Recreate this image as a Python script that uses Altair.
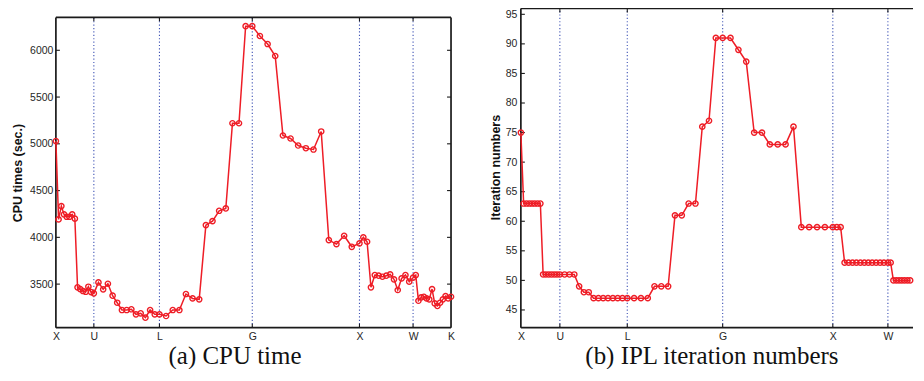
import altair as alt
import pandas as pd

# k-path coordinates (X-U-L-G-X-W-K, 14 steps per segment)
K_POINTS = [0.000, 0.025, 0.051, 0.076, 0.101, 0.126, 0.152, 0.177, 0.202, 0.227, 0.253, 0.278, 0.303, 0.328, 0.354,
            0.397, 0.441, 0.485, 0.529, 0.572, 0.616, 0.660, 0.704, 0.747, 0.791, 0.835, 0.879, 0.922, 0.966,
            1.028, 1.090, 1.152, 1.213, 1.275, 1.337, 1.399, 1.461, 1.523, 1.585, 1.647, 1.708, 1.770, 1.832,
            1.903, 1.975, 2.046, 2.118, 2.189, 2.260, 2.332, 2.403, 2.475, 2.546, 2.617, 2.689, 2.760, 2.832,
            2.868, 2.903, 2.939, 2.975, 3.011, 3.046, 3.082, 3.118, 3.154, 3.189, 3.225, 3.261, 3.296, 3.332,
            3.357, 3.382, 3.408, 3.433, 3.458, 3.483, 3.509, 3.534, 3.559, 3.584, 3.610, 3.635, 3.660, 3.686]

CPU_TIMES = [5030, 4192, 4334, 4245, 4220, 4220, 4245, 4200, 3466, 3447, 3426, 3418, 3472, 3415, 3401,
             3518, 3444, 3504, 3376, 3301, 3223, 3223, 3231, 3177, 3188, 3141, 3223, 3177, 3177,
             3159, 3223, 3223, 3394, 3347, 3337, 4131, 4174, 4284, 4309, 5220, 5220, 6258, 6258,
             6153, 6067, 5939, 5089, 5057, 4982, 4953, 4939, 5132, 3971, 3928, 4017, 3899, 3936,
             4000, 3953, 3466, 3597, 3590, 3579, 3590, 3604, 3551, 3437, 3561, 3597, 3526, 3569,
             3597, 3322, 3358, 3365, 3347, 3337, 3447, 3294, 3266, 3301, 3337, 3372, 3347, 3365]

IPL_ITERS = [75, 63, 63, 63, 63, 63, 63, 63, 51, 51, 51, 51, 51, 51, 51,
             51, 51, 51, 49, 48, 48, 47, 47, 47, 47, 47, 47, 47, 47,
             47, 47, 47, 49, 49, 49, 61, 61, 63, 63, 76, 77, 91, 91,
             91, 89, 87, 75, 75, 73, 73, 73, 76, 59, 59, 59, 59, 59,
             59, 59, 53, 53, 53, 53, 53, 53, 53, 53, 53, 53, 53, 53,
             53, 50, 50, 50, 50, 50, 50, 50, 50, 50, 50, 50, 50, 50]

TICK_POS = [0.0, 0.354, 0.966, 1.832, 2.832, 3.332, 3.686]
TICK_LABELS = ["X", "U", "L", "G", "X", "W", "K"]
CPU_TICKS = [3500, 4000, 4500, 5000, 5500, 6000]
IPL_TICKS = [45, 50, 55, 60, 65, 70, 75, 80, 85, 90, 95]

CPU_LIMITS = [3034, 6448]
CPU_BOX_TOP = 6352
IPL_LIMITS = [42, 96]
IPL_BOX_TOP = 96
K_MAX_A = 3.686
K_MAX_B = 3.560   # panel (b) is cut off at the right edge of the figure
K_SHOWN_B = 3.54

RED = "#ee1d26"
FRAME = "#1a1a1a"
GRID = "#3f53b5"
TEXT = "#262626"


def label_expr():
    expr = "''"
    for pos, lab in reversed(list(zip(TICK_POS, TICK_LABELS))):
        expr = f"abs(datum.value - {pos}) < 0.02 ? '{lab}' : ({expr})"
    return expr


def panel(values, y_limits, box_top, y_ticks, k_max, k_shown, width, y_title, y_title_x, y_title_y,
          y_label_pad, caption, caption_x, right_edge):
    y0 = y_limits[0]
    df = pd.DataFrame({"k": K_POINTS, "v": values})
    xs = alt.Scale(domain=[0, k_max], nice=False, zero=False)
    ys = alt.Scale(domain=y_limits, nice=False, zero=False)
    shown = [p for p in TICK_POS if p <= k_max + 1e-9]
    inner = [p for p in TICK_POS if 0 < p < k_max - 1e-6]

    x_axis = alt.Axis(values=shown, labelExpr=label_expr(), labelFont="Liberation Sans",
                      labelFontSize=10.5, labelColor=TEXT, labelPadding=3.5, labelFlush=False,
                      labelOverlap=False, labelBound=False, ticks=False, domain=False, grid=False,
                      title=caption, titleFont="Liberation Serif", titleFontSize=25,
                      titleFontWeight="normal", titleColor="#111111", titleX=caption_x, titleY=36,
                      titleBaseline="alphabetic", titleAlign="center")
    y_axis = alt.Axis(values=y_ticks, format="d", labelFont="Liberation Sans", labelFontSize=10.5,
                      labelColor=TEXT, labelPadding=y_label_pad, ticks=False, domain=False, grid=False,
                      title=y_title, titleFont="Liberation Sans", titleFontSize=12.5,
                      titleFontWeight="bold", titleColor="#111111", titleAngle=270,
                      titleX=y_title_x, titleY=y_title_y, titleBaseline="middle", titleAlign="center")

    X = alt.X("k:Q", scale=xs, axis=x_axis, title=caption)
    Y = alt.Y("v:Q", scale=ys, axis=y_axis, title=y_title)

    grid_df = pd.DataFrame({"k": inner, "v": [y0] * len(inner), "v2": [box_top] * len(inner)})
    grid = alt.Chart(grid_df).mark_rule(color=GRID, strokeWidth=1.1, strokeDash=[1.2, 2.2]).encode(
        x=X, y=Y, y2="v2:Q")

    fk = [0, 0, 0]
    fk2 = [k_max, 0, k_max]
    fv = [box_top, y0, y0]
    fv2 = [box_top, box_top, y0]
    if right_edge:
        fk.append(k_max); fk2.append(k_max); fv.append(y0); fv2.append(box_top)
    frame_df = pd.DataFrame({"k": fk, "k2": fk2, "v": fv, "v2": fv2})
    frame = alt.Chart(frame_df).mark_rule(color=FRAME, strokeWidth=1.7).encode(
        x=X, x2="k2:Q", y=Y, y2="v2:Q")

    def tick_layer(kvals, vvals, **off):
        tdf = pd.DataFrame({"k": kvals, "v": vvals})
        return alt.Chart(tdf).mark_rule(color=FRAME, strokeWidth=1.1, **off).encode(
            x=X, x2="k:Q", y=Y, y2="v:Q")

    ticks = [
        tick_layer([0] * len(y_ticks), y_ticks, x2Offset=4),
        tick_layer(inner, [y0] * len(inner), y2Offset=-4),
        tick_layer(inner, [box_top] * len(inner), y2Offset=4),
    ]
    if right_edge:
        ticks.append(tick_layer([k_max] * len(y_ticks), y_ticks, x2Offset=-4))

    visible = f"datum.k <= {k_shown}"
    line = alt.Chart(df).transform_filter(visible).mark_line(
        color=RED, strokeWidth=1.5).encode(x=X, y=Y)
    pts = alt.Chart(df).transform_filter(visible).mark_point(
        shape="circle", filled=False, color=RED, size=28, strokeWidth=1.4, opacity=1).encode(x=X, y=Y)

    return alt.layer(grid, *ticks, frame, line, pts).properties(width=width, height=320)


left = panel(CPU_TIMES, CPU_LIMITS, CPU_BOX_TOP, CPU_TICKS, K_MAX_A, K_MAX_A + 0.01, 396,
             "CPU times (sec.)", -38, 164.5, 3, "(a) CPU time", 179, True)
right = panel(IPL_ITERS, IPL_LIMITS, IPL_BOX_TOP, IPL_TICKS, K_MAX_B, K_SHOWN_B, 393,
              "Iteration numbers", -25, 159, 4, "(b) IPL iteration numbers", 191, False)

chart = alt.hconcat(left, right, spacing=70, bounds="flush",
                    padding={"left": 4, "top": -1, "right": 0, "bottom": 0}).configure_view(stroke=None)

chart.save("out.html", embed_options={"renderer": "svg", "actions": False})
